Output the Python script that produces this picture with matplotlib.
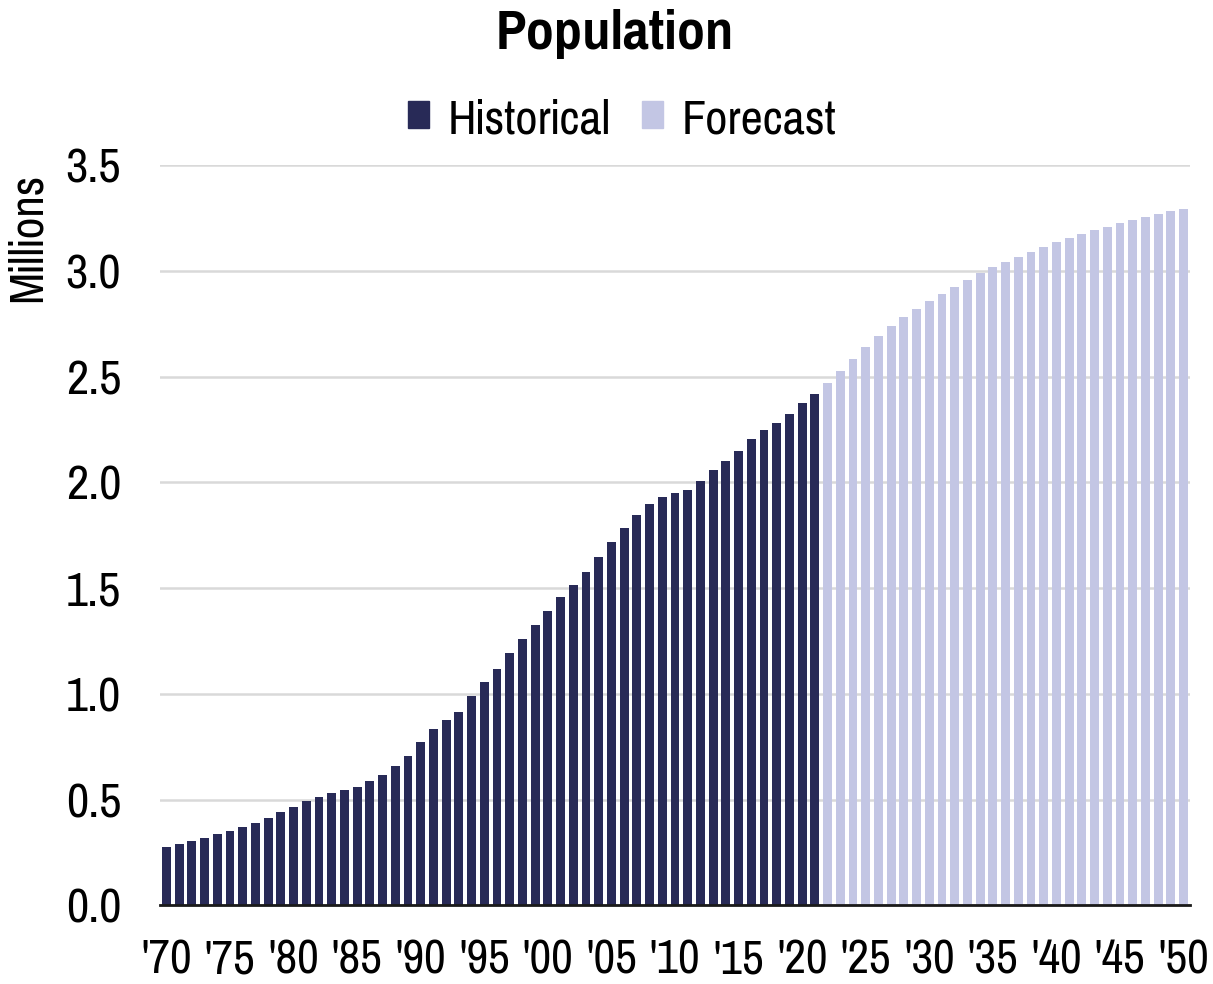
import numpy as np
import matplotlib
matplotlib.use("Agg")
import matplotlib.pyplot as plt
from matplotlib.patches import Patch

plt.rcParams["font.family"] = ["Pragati Narrow", "Liberation Sans", "DejaVu Sans"]

# Population in millions
hist_years = list(range(1970, 2022))
hist_values = [
    0.276, 0.292, 0.306, 0.317, 0.336, 0.350, 0.369, 0.388, 0.412, 0.440,
    0.467, 0.492, 0.511, 0.530, 0.544, 0.558, 0.587, 0.615, 0.661, 0.708,
    0.770, 0.834, 0.874, 0.914, 0.989, 1.055, 1.118, 1.192, 1.260, 1.326,
    1.394, 1.457, 1.517, 1.577, 1.649, 1.716, 1.783, 1.848, 1.898, 1.933,
    1.950, 1.966, 2.007, 2.059, 2.103, 2.147, 2.204, 2.247, 2.283, 2.324,
    2.375, 2.417,
]
fc_years = list(range(2022, 2051))
fc_values = [
    2.469, 2.527, 2.586, 2.639, 2.691, 2.739, 2.781, 2.820, 2.858, 2.893,
    2.926, 2.957, 2.989, 3.017, 3.043, 3.068, 3.091, 3.115, 3.135, 3.154,
    3.175, 3.192, 3.210, 3.227, 3.241, 3.255, 3.268, 3.282, 3.295,
]
tick_years = list(range(1970, 2051, 5))
tick_labels = ["'%02d" % (y % 100) for y in tick_years]
y_ticks = [0.0, 0.5, 1.0, 1.5, 2.0, 2.5, 3.0, 3.5]

DARK = "#282a57"
LIGHT = "#c3c6e4"

fig = plt.figure(figsize=(12.13, 9.84), dpi=100)
ax = fig.add_axes([0.132, 0.080, 0.849, 0.752])

ax.bar(hist_years, hist_values, width=0.7, color=DARK, zorder=3)
ax.bar(fc_years, fc_values, width=0.7, color=LIGHT, zorder=3)

ax.set_xlim(1969.5, 2050.5)
ax.set_ylim(0, 3.5)
ax.set_yticks(y_ticks)
ax.set_yticklabels(["%.1f" % v for v in y_ticks], fontsize=38)
ax.set_xticks(tick_years)
ax.set_xticklabels(tick_labels, fontsize=37)
ax.tick_params(length=0)
ax.tick_params(axis="x", pad=24)
ax.tick_params(axis="y", pad=28)

ax.grid(axis="y", color="#d9d9d9", linewidth=1.8, zorder=0)
for s in ["top", "right", "left"]:
    ax.spines[s].set_visible(False)
ax.spines["bottom"].set_color("#1a1a1a")
ax.spines["bottom"].set_linewidth(2)
ax.spines["bottom"].set_zorder(4)

ax.set_ylabel("Millions", fontsize=37)
ax.yaxis.set_label_coords(-0.108, 0.903)

fig.suptitle("Population", fontsize=44, fontweight="bold", x=0.507, y=0.991)

handles = [Patch(color=DARK, label="Historical"), Patch(color=LIGHT, label="Forecast")]
fig.legend(handles=handles, loc="center", bbox_to_anchor=(0.513, 0.878), ncol=2,
           frameon=False, fontsize=38, handlelength=0.4, handleheight=0.4,
           handletextpad=0.35, columnspacing=0.6)

fig.savefig("out.png", dpi=100)
